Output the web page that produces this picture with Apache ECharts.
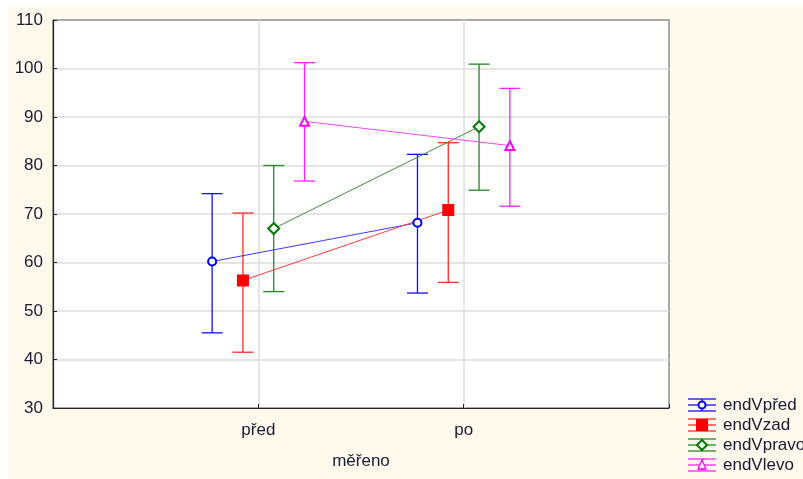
<!DOCTYPE html>
<html>
<head>
<meta charset="utf-8">
<script src="https://cdn.jsdelivr.net/npm/echarts@6/dist/echarts.min.js"></script>
<style>
html,body{margin:0;padding:0;background:#fff;}
#chart{width:803px;height:479px;}
</style>
</head>
<body>
<div id="chart"></div>
<script>
// ---- data ----
const categories = ['před', 'po'];
const seriesNames = ['endVpřed', 'endVzad', 'endVpravo', 'endVlevo'];
const yTicks = [30, 40, 50, 60, 70, 80, 90, 100, 110];

const endVpredMean = [60.2, 68.2];
const endVpredLow  = [45.5, 53.7];
const endVpredHigh = [74.2, 82.3];

const endVzadMean = [56.3, 70.8];
const endVzadLow  = [41.5, 55.9];
const endVzadHigh = [70.2, 84.7];

const endVpravoMean = [67.0, 88.0];
const endVpravoLow  = [54.0, 74.9];
const endVpravoHigh = [80.0, 100.9];

const endVlevoMean = [89.1, 84.1];
const endVlevoLow  = [76.8, 71.6];
const endVlevoHigh = [101.2, 95.9];

// ---- styling ----
const means = [endVpredMean, endVzadMean, endVpravoMean, endVlevoMean];
const lows  = [endVpredLow, endVzadLow, endVpravoLow, endVlevoLow];
const highs = [endVpredHigh, endVzadHigh, endVpravoHigh, endVlevoHigh];
const offsets = [-0.225, -0.075, 0.075, 0.225];
const markerColors = ['#0000ff', '#ff0000', '#007a00', '#ff00ff'];
const lineColors = ['#3a3aff', '#ff3a3a', '#3c8c3c', '#ff44ff'];
const barColors = ['#1010ff', '#ff2a2a', '#1f8a1f', '#ff22ff'];
const symbols = ['circle', 'rect', 'diamond', 'triangle'];
const symbolSizes = [8, 10, 11, 9];
const filled = [false, true, false, false];
const textColor = '#1a1a33';
const FONT = 'Arial, "Liberation Sans", sans-serif';

const chart = echarts.init(document.getElementById('chart'), null, {renderer: 'canvas'});

const series = [];
seriesNames.forEach((name, s) => {
  const pts = categories.map((c, i) => [i + 1 + offsets[s], means[s][i]]);
  const bars = categories.map((c, i) => [i + 1 + offsets[s], lows[s][i], highs[s][i]]);
  series.push({
    name: name + ' err',
    type: 'custom',
    z: 3,
    silent: true,
    data: bars,
    renderItem: function (params, api) {
      const x = api.value(0);
      const lo = api.coord([x, api.value(1)]);
      const hi = api.coord([x, api.value(2)]);
      const hw = 10.5;
      const st = {stroke: barColors[s], lineWidth: 1.3};
      return {
        type: 'group',
        children: [
          {type: 'line', shape: {x1: lo[0], y1: lo[1], x2: hi[0], y2: hi[1]}, style: st},
          {type: 'line', shape: {x1: lo[0] - hw, y1: lo[1], x2: lo[0] + hw, y2: lo[1]}, style: st},
          {type: 'line', shape: {x1: hi[0] - hw, y1: hi[1], x2: hi[0] + hw, y2: hi[1]}, style: st}
        ]
      };
    }
  });
  series.push({
    name: name,
    type: 'line',
    z: 4,
    data: pts,
    symbol: symbols[s],
    symbolSize: symbolSizes[s],
    showAllSymbol: true,
    lineStyle: {color: lineColors[s], width: 1},
    itemStyle: {
      color: filled[s] ? markerColors[s] : '#ffffff',
      borderColor: markerColors[s],
      borderWidth: 2
    },
    emphasis: {disabled: true},
    animation: false
  });
});

// legend drawn as graphic elements
const legendGraphics = [];
seriesNames.forEach((name, s) => {
  const cy = 405 + s * 20;
  const x0 = 688, x1 = 716, cx = 702;
  const col = barColors[s];
  const st = {stroke: col, lineWidth: 1.3};
  const kids = [
    {type: 'line', shape: {x1: x0, y1: cy - 6, x2: x1, y2: cy - 6}, style: st},
    {type: 'line', shape: {x1: x0, y1: cy + 6, x2: x1, y2: cy + 6}, style: st},
    {type: 'line', shape: {x1: x0, y1: cy, x2: x1, y2: cy}, style: st},
    {type: 'line', shape: {x1: cx, y1: cy - 6, x2: cx, y2: cy + 6}, style: st}
  ];
  const mk = {stroke: markerColors[s], lineWidth: 2, fill: filled[s] ? markerColors[s] : '#fff'};
  if (symbols[s] === 'circle') kids.push({type: 'circle', shape: {cx: cx, cy: cy, r: 3.5}, style: mk});
  if (symbols[s] === 'rect') kids.push({type: 'rect', shape: {x: cx - 5, y: cy - 5, width: 10, height: 10}, style: mk});
  if (symbols[s] === 'diamond') kids.push({type: 'polygon', shape: {points: [[cx, cy - 5], [cx + 5, cy], [cx, cy + 5], [cx - 5, cy]]}, style: mk});
  if (symbols[s] === 'triangle') kids.push({type: 'polygon', shape: {points: [[cx, cy - 5], [cx + 4, cy + 4], [cx - 4, cy + 4]]}, style: {stroke: markerColors[s], lineWidth: 1.3, fill: '#fff'}});
  kids.push({type: 'text', style: {x: 723, y: cy, text: name, fill: textColor, font: '17px ' + FONT, verticalAlign: 'middle', align: 'left'}});
  legendGraphics.push({type: 'group', children: kids, z: 10});
});

const option = {
  backgroundColor: '#ffffff',
  animation: false,
  textStyle: {fontFamily: FONT},
  graphic: [
    {type: 'rect', left: 8, top: 6, z: -100, shape: {width: 795, height: 473}, style: {fill: '#fff9ee'}, silent: true}
  ].concat(legendGraphics),
  grid: {
    left: 53, top: 20, right: 134, bottom: 71,
    show: true, backgroundColor: '#ffffff', borderColor: '#555555', borderWidth: 1
  },
  xAxis: {
    type: 'value',
    min: 0, max: categories.length + 1, interval: 1,
    name: 'měřeno',
    nameLocation: 'middle',
    nameGap: 45,
    nameTextStyle: {fontSize: 17, color: textColor, fontFamily: FONT},
    axisLine: {show: true, onZero: false, lineStyle: {color: '#222', width: 1.2}},
    axisTick: {show: true, inside: true, length: 4, lineStyle: {color: '#222'}},
    axisLabel: {
      fontSize: 17, color: textColor, margin: 14, fontFamily: FONT,
      formatter: function (v) { return categories[v - 1] || ''; }
    },
    splitLine: {show: true, showMinLine: false, showMaxLine: false, lineStyle: {color: '#dcdcdc', width: 1.5}}
  },
  yAxis: {
    type: 'value',
    min: yTicks[0], max: yTicks[yTicks.length - 1], interval: yTicks[1] - yTicks[0],
    axisLine: {show: true, onZero: false, lineStyle: {color: '#222', width: 1.2}},
    axisTick: {show: true, inside: true, length: 4, lineStyle: {color: '#222'}},
    axisLabel: {fontSize: 17, color: textColor, margin: 10, fontFamily: FONT},
    splitLine: {show: true, showMinLine: false, showMaxLine: false, lineStyle: {color: '#dcdcdc', width: 1.5}}
  },
  series: series
};
chart.setOption(option);
</script>
</body>
</html>
